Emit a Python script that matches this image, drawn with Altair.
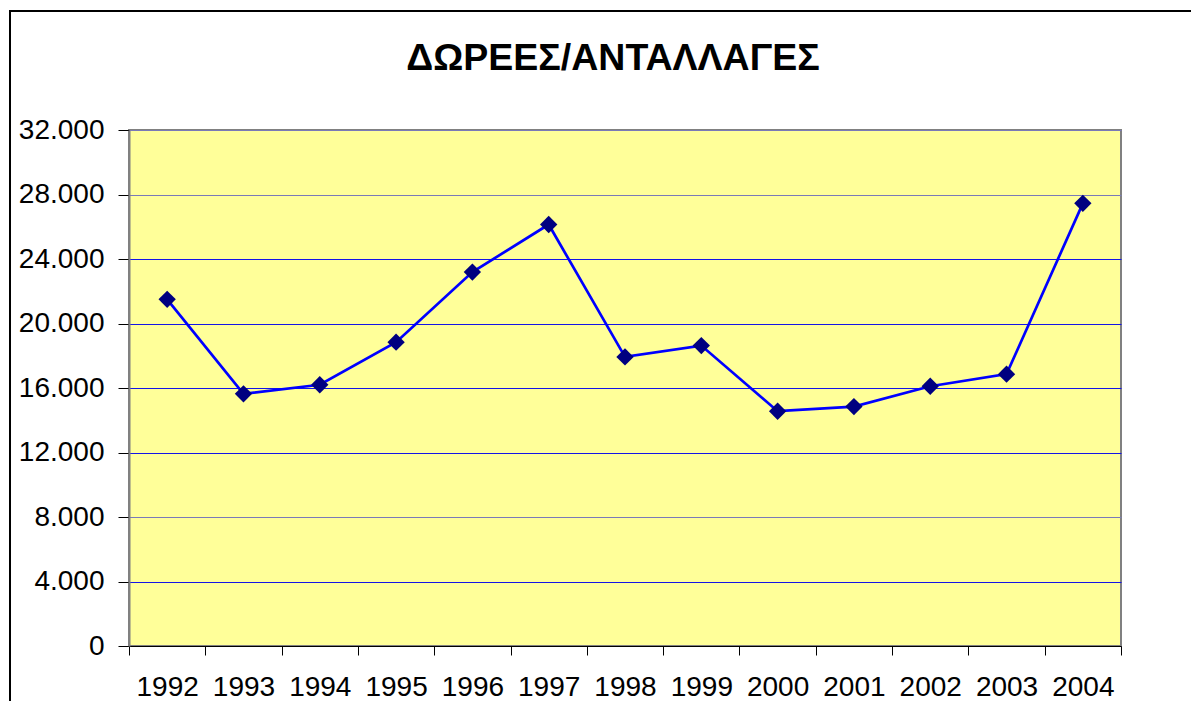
import altair as alt
import pandas as pd

years = ["1992", "1993", "1994", "1995", "1996", "1997", "1998",
         "1999", "2000", "2001", "2002", "2003", "2004"]
values = [21500, 15640, 16200, 18840, 23190, 26140, 17930,
          18630, 14560, 14850, 16110, 16860, 27450]
y_ticks = [0, 4000, 8000, 12000, 16000, 20000, 24000, 28000, 32000]
title_text = "ΔΩΡΕΕΣ/ΑΝΤΑΛΛΑΓΕΣ"

df = pd.DataFrame({"year": years, "value": values})

W, H = 992, 516

x_enc = alt.X(
    "year:N", sort=years, title=None,
    scale=alt.Scale(paddingInner=0, paddingOuter=0),
    axis=alt.Axis(labelAngle=0, labelFont="Liberation Sans", labelFontSize=28,
                  labelColor="black", tickBand="extent", tickSize=9,
                  tickColor="black", domainColor="black", labelPadding=18,
                  grid=False),
)
y_enc = alt.Y(
    "value:Q", title=None,
    scale=alt.Scale(domain=[0, 32000], nice=False),
    axis=alt.Axis(values=y_ticks, labelExpr="replace(format(datum.value, ','), ',', '.')",
                  labelFont="Liberation Sans", labelFontSize=28, labelColor="black",
                  tickSize=11, tickColor="black", domainColor="#808080", domainWidth=2,
                  labelPadding=14,
                  grid=True,
                  gridColor={"condition": {"test": "datum.value == 28000 || datum.value == 8000 || datum.value == 32000 || datum.value == 0", "value": "#7a7ab8"}, "value": "#1414e6"},
                  gridWidth=1),
)

frame = alt.Chart(df).mark_rect(fill="transparent", stroke="black", strokeWidth=1.5, clip=False).encode(
    x=alt.value(-119), x2=alt.value(1250), y=alt.value(-119), y2=alt.value(700)
)

line = alt.Chart(df).mark_line(color="#0000ff", strokeWidth=2.7).encode(x=x_enc, y=y_enc)
pts = alt.Chart(df).mark_point(shape="diamond", filled=True, color="#000080",
                               size=300, opacity=1).encode(x=x_enc, y=y_enc)

chart = alt.layer(frame, line, pts).properties(
    width=W, height=H,
    background="white",
    title=alt.TitleParams(title_text, font="Liberation Sans", fontSize=37.5,
                          fontWeight="bold", color="black", anchor="middle",
                          frame="group", dx=-12, offset=0, dy=67),
    padding={"left": 121, "top": 122, "right": 70, "bottom": 55},
    autosize=alt.AutoSizeParams(type="none"),
).configure_view(
    fill="#FFFF99", stroke="#808080", strokeWidth=2
)

chart.save("out.html", embed_options={"renderer": "svg", "actions": False})
